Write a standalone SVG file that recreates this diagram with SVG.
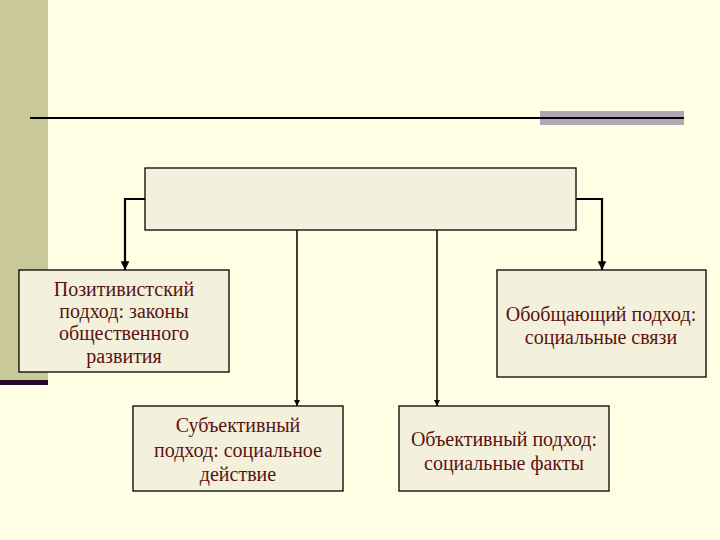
<svg xmlns="http://www.w3.org/2000/svg" width="720" height="540" viewBox="0 0 720 540">
<defs>
<style>
.box{fill:#F3F1DC;stroke:#000;stroke-width:1.3}
.t{font-family:"Liberation Serif","Times New Roman",serif;font-size:20px;fill:#5C1212;text-anchor:middle}
.c{fill:none;stroke:#000;stroke-width:1.5}
.ct{stroke-width:2.2}
</style>
<marker id="a" viewBox="0 0 10 10" refX="10" refY="5" markerWidth="4" markerHeight="4" orient="auto"><path d="M0,0 L10,5 L0,10 z" fill="#000"/></marker>
</defs>
<rect width="720" height="540" fill="#FFFFE3"/>
<rect x="0" y="0" width="48" height="380" fill="#C8C898"/>
<rect x="0" y="380" width="48" height="5" fill="#2A0A2A"/>
<rect x="540" y="111" width="144" height="14" fill="#B0A8B6"/>
<line x1="30" y1="118" x2="684" y2="118" stroke="#000" stroke-width="2"/>
<g id="connectors">
<path class="c ct" d="M145,199 H125 V270" marker-end="url(#a)"/>
<path class="c ct" d="M576,199 H602 V270" marker-end="url(#a)"/>
<path class="c" d="M297,230 V406" marker-end="url(#a)"/>
<path class="c" d="M437,230 V406" marker-end="url(#a)"/>
</g>
<g id="top"><rect class="box" x="145" y="168" width="431" height="62"/></g>
<g id="positivist"><rect class="box" x="19" y="270" width="210" height="102"/>
<text class="t" x="124" y="296">Позитивистский</text>
<text class="t" x="124" y="318">подход: законы</text>
<text class="t" x="124" y="340">общественного</text>
<text class="t" x="124" y="363">развития</text></g>
<g id="generalizing"><rect class="box" x="497" y="270" width="209" height="107"/>
<text class="t" x="601" y="321">Обобщающий подход:</text>
<text class="t" x="601" y="344">социальные связи</text></g>
<g id="subjective"><rect class="box" x="133" y="406" width="210" height="85"/>
<text class="t" x="238" y="432">Субъективный</text>
<text class="t" x="238" y="457">подход: социальное</text>
<text class="t" x="238" y="481">действие</text></g>
<g id="objective"><rect class="box" x="399" y="406" width="210" height="85"/>
<text class="t" x="504" y="446">Объективный подход:</text>
<text class="t" x="504" y="470">социальные факты</text></g>
</svg>
